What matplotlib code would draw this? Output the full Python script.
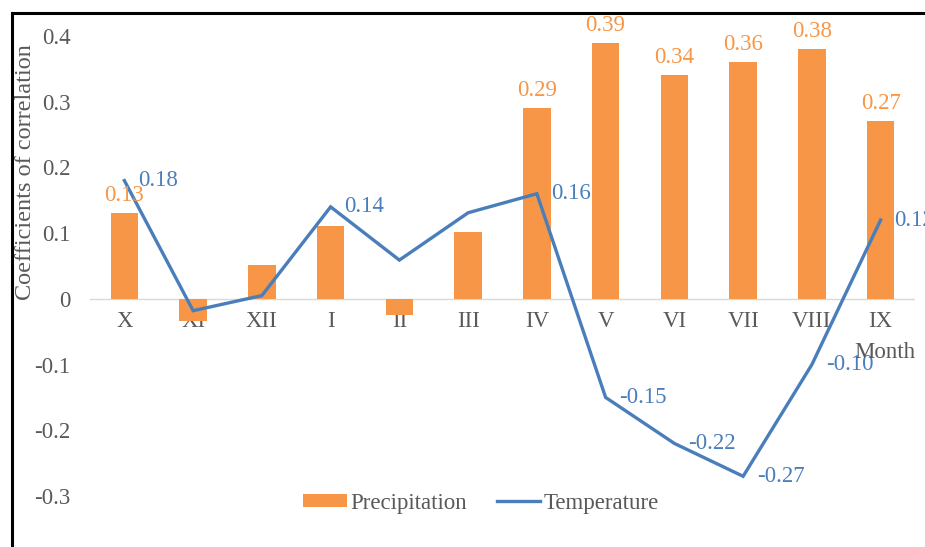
import matplotlib
matplotlib.use("Agg")
import matplotlib.pyplot as plt
from matplotlib.lines import Line2D
import numpy as np

# Months of the hydrological year (October to September)
months = ["X", "XI", "XII", "I", "II", "III", "IV", "V", "VI", "VII", "VIII", "IX"]

# Correlation coefficients
precipitation = [0.13, -0.033, 0.052, 0.111, -0.024, 0.102, 0.29, 0.39, 0.34, 0.36, 0.38, 0.27]
temperature = [0.18, -0.018, 0.005, 0.14, 0.059, 0.131, 0.16, -0.15, -0.22, -0.27, -0.10, 0.12]

# Which points carry a value label
precip_labeled = [True, False, False, False, False, False, True, True, True, True, True, True]
temp_labeled = [True, False, False, True, False, False, True, True, True, True, True, True]

y_ticks = [-0.3, -0.2, -0.1, 0, 0.1, 0.2, 0.3, 0.4]
y_tick_labels = ["-0.3", "-0.2", "-0.1", "0", "0.1", "0.2", "0.3", "0.4"]

BAR_COLOR = "#F79646"
LINE_COLOR = "#4A7EBB"
TEXT_GRAY = "#595959"
FONT = "Liberation Serif"
FS = 16.5

plt.rcParams["font.family"] = [FONT, "DejaVu Serif"]

W, H = 925, 547
fig = plt.figure(figsize=(W / 100, H / 100), dpi=100)

# plot area in pixel terms
left_px, right_px, top_px, bottom_px = 90, 915, 36, 496
ax = fig.add_axes([left_px / W, (H - bottom_px) / H,
                   (right_px - left_px) / W, (bottom_px - top_px) / H])

x = np.arange(len(months))
bars = ax.bar(x, precipitation, width=0.4, color=BAR_COLOR, zorder=2, label="Precipitation")
line, = ax.plot(x, temperature, color=LINE_COLOR, lw=2.4, zorder=3, label="Temperature",
                solid_joinstyle="miter")

ax.set_xlim(-0.5, len(months) - 0.5)
ax.set_ylim(-0.3, 0.4)

# zero baseline acting as the category axis
for side in ["top", "right", "left", "bottom"]:
    ax.spines[side].set_visible(False)
ax.axhline(0, color="#D9D9D9", lw=1.0, zorder=1)

ax.set_yticks(y_ticks)
ax.set_yticklabels(y_tick_labels)
ax.tick_params(axis="y", length=0, pad=14, labelsize=FS, labelcolor=TEXT_GRAY)
ax.set_xticks([])

# category labels sit just under the zero line
for xi, m in zip(x, months):
    ax.annotate(m, (xi, 0), xytext=(0, -9), textcoords="offset points",
                ha="center", va="top", fontsize=FS, color=TEXT_GRAY, zorder=1)

# value labels
for xi, v, show in zip(x, precipitation, precip_labeled):
    if show:
        ax.annotate(f"{v:.2f}", (xi, v), xytext=(0, 5), textcoords="offset points",
                    ha="center", va="bottom", fontsize=FS, color=BAR_COLOR,
                    annotation_clip=False, zorder=4)
for xi, v, show in zip(x, temperature, temp_labeled):
    if show:
        ax.annotate(f"{v:.2f}", (xi, v), xytext=(10, 0), textcoords="offset points",
                    ha="left", va="center", fontsize=FS, color=LINE_COLOR,
                    annotation_clip=False, zorder=4)

ax.set_ylabel("Coefficients of correlation", fontsize=17.5, color=TEXT_GRAY)
ax.yaxis.set_label_coords(36 / W, 1 - 172 / H, transform=fig.transFigure)

fig.text(915 / W, 1 - 352 / H, "Month", ha="right", va="center",
         fontsize=FS, color=TEXT_GRAY)

fig.legend([bars, line], ["Precipitation", "Temperature"], loc="center",
           bbox_to_anchor=(481 / W, 1 - 503 / H),
           ncol=2, frameon=False, fontsize=FS, labelcolor=TEXT_GRAY,
           handlelength=1.9, handleheight=0.5, handletextpad=0.15, columnspacing=1.3)

# black frame on the left and top edges
fig.add_artist(Line2D([12 / W, 12 / W], [0, 1 - 13 / H], transform=fig.transFigure,
                      color="black", lw=2.2))
fig.add_artist(Line2D([12 / W, 1], [1 - 13 / H, 1 - 13 / H], transform=fig.transFigure,
                      color="black", lw=2.2))

fig.savefig("out.png", dpi=100)
